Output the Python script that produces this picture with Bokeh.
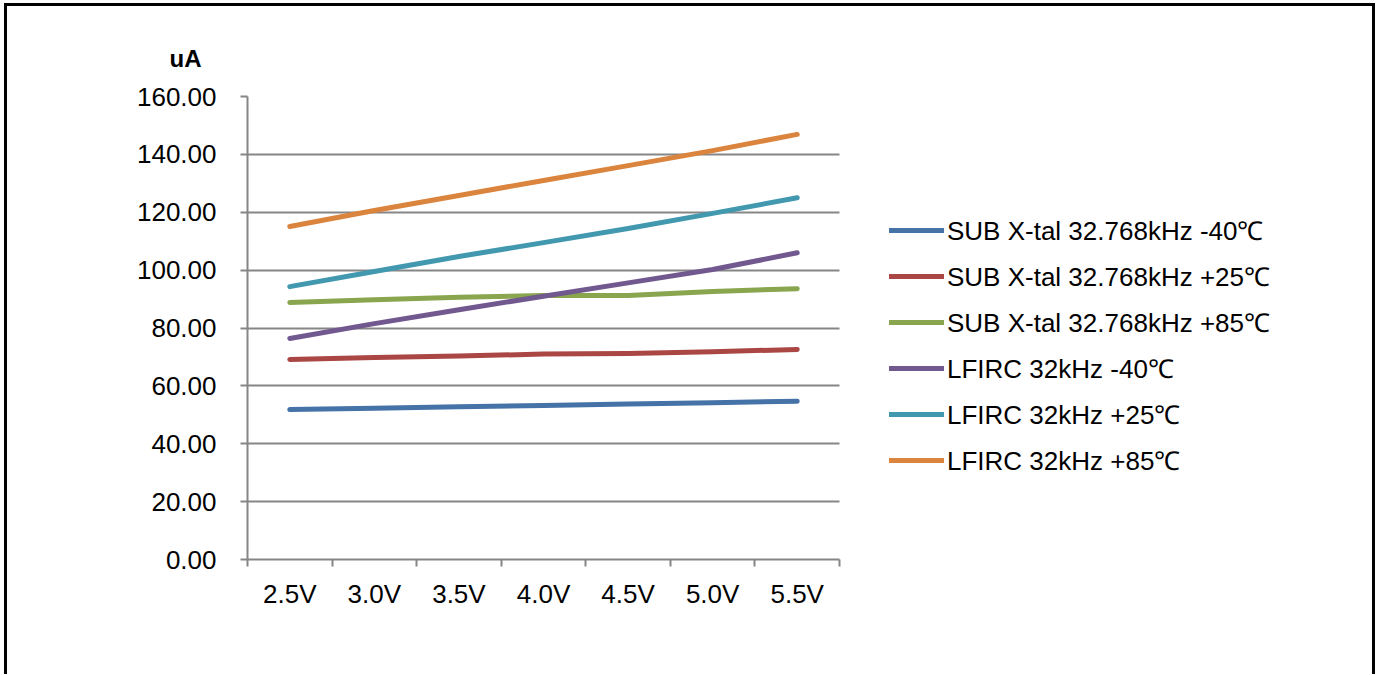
from bokeh.plotting import figure
from bokeh.models import (Range1d, FixedTicker, PrintfTickFormatter, Legend,
                          LegendItem, Title)
from bokeh.embed import file_html
from bokeh.resources import INLINE

categories = ["2.5V", "3.0V", "3.5V", "4.0V", "4.5V", "5.0V", "5.5V"]
y_ticks = [0, 20, 40, 60, 80, 100, 120, 140, 160]

sub_m40 = [51.8, 52.3, 52.8, 53.2, 53.7, 54.2, 54.7]
sub_p25 = [69.1, 69.8, 70.3, 71.0, 71.2, 71.8, 72.6]
sub_p85 = [88.8, 89.8, 90.6, 91.2, 91.2, 92.6, 93.6]
lf_m40 = [76.4, 81.5, 86.3, 91.0, 95.6, 100.2, 106.0]
lf_p25 = [94.3, 99.5, 104.7, 109.5, 114.4, 119.6, 125.0]
lf_p85 = [115.1, 120.6, 125.8, 131.0, 136.1, 141.3, 146.9]

series_names = [
    "SUB X-tal 32.768kHz -40\u2103",
    "SUB X-tal 32.768kHz +25\u2103",
    "SUB X-tal 32.768kHz +85\u2103",
    "LFIRC 32kHz -40\u2103",
    "LFIRC 32kHz +25\u2103",
    "LFIRC 32kHz +85\u2103",
]
series_values = [sub_m40, sub_p25, sub_p85, lf_m40, lf_p25, lf_p85]
colors = ["#4572A7", "#AA4643", "#89A54E", "#71588F", "#4198AF", "#DB843D"]

FONT = "Liberation Sans"
FS = "26px"
GRAY = "#868686"

n = len(categories)
xs = list(range(n))

# layout: the plotted categories occupy 592 px; the frame continues to the
# right edge so that the legend (inside the frame) is not clipped
CAT_W = 592
FRAME_W = 1125
x_end = -0.5 + n * FRAME_W / CAT_W

p = figure(frame_width=FRAME_W, frame_height=463,
           min_border_left=240, min_border_right=0,
           min_border_top=90, min_border_bottom=115,
           x_range=Range1d(-0.5, x_end), y_range=Range1d(0, 160),
           output_backend="svg", toolbar_location=None,
           styles={"border-left": "3px solid black",
                   "border-top": "3px solid black",
                   "border-right": "3px solid black",
                   "margin-left": "4px",
                   "margin-top": "3px"})
p.outline_line_color = None
p.background_fill_color = "white"
p.border_fill_color = "white"

# title used as the unit label "uA"
p.title = Title(text="uA", align="left", offset=-78, standoff=50,
                text_font=FONT, text_font_size="24px",
                text_font_style="bold", text_color="black")

# x axis
p.xaxis.bounds = (-0.5, n - 0.5)
p.xaxis.ticker = FixedTicker(ticks=xs, minor_ticks=[i - 0.5 for i in range(n + 1)])
p.xaxis.major_label_overrides = {i: c for i, c in enumerate(categories)}
p.xaxis.major_tick_out = 0
p.xaxis.major_tick_in = 0
p.xaxis.minor_tick_out = 7
p.xaxis.minor_tick_in = 0
p.xaxis.minor_tick_line_color = GRAY
p.xaxis.minor_tick_line_width = 2
p.xaxis.axis_line_color = GRAY
p.xaxis.axis_line_width = 2
p.xaxis.major_label_text_font = FONT
p.xaxis.major_label_text_font_size = FS
p.xaxis.major_label_text_color = "black"
p.xaxis.major_label_standoff = 12

# y axis
p.yaxis.ticker = FixedTicker(ticks=y_ticks, minor_ticks=[])
p.yaxis.formatter = PrintfTickFormatter(format="%.2f")
p.yaxis.major_tick_out = 7
p.yaxis.major_tick_in = 0
p.yaxis.major_tick_line_color = GRAY
p.yaxis.major_tick_line_width = 2
p.yaxis.minor_tick_line_color = None
p.yaxis.axis_line_color = GRAY
p.yaxis.axis_line_width = 2
p.yaxis.major_label_text_font = FONT
p.yaxis.major_label_text_font_size = FS
p.yaxis.major_label_text_color = "black"
p.yaxis.major_label_standoff = 24

p.xgrid.grid_line_color = None
p.ygrid.ticker = FixedTicker(ticks=y_ticks)
if "cross_bounds" in p.ygrid[0].properties():
    p.ygrid.cross_bounds = (-0.5, n - 0.5)
    p.ygrid.grid_line_color = GRAY
    p.ygrid.grid_line_width = 2
else:
    p.ygrid.grid_line_color = None
    p.segment(x0=[-0.5] * len(y_ticks), x1=[n - 0.5] * len(y_ticks),
              y0=y_ticks, y1=y_ticks, line_color=GRAY, line_width=2)

items = []
for name, vals, col in zip(series_names, series_values, colors):
    r = p.line(xs, vals, line_color=col, line_width=5, line_cap="round",
               line_join="round")
    items.append(LegendItem(label=name, renderers=[r]))

legend = Legend(items=items, location=(642, 81), margin=0, padding=0,
                glyph_width=55, glyph_height=36, label_height=36, spacing=10,
                label_standoff=3, label_text_font=FONT,
                label_text_font_size=FS, label_text_color="black",
                border_line_color=None, background_fill_alpha=0)
p.add_layout(legend, "center")

open("out.html", "w").write(file_html(p, INLINE))
